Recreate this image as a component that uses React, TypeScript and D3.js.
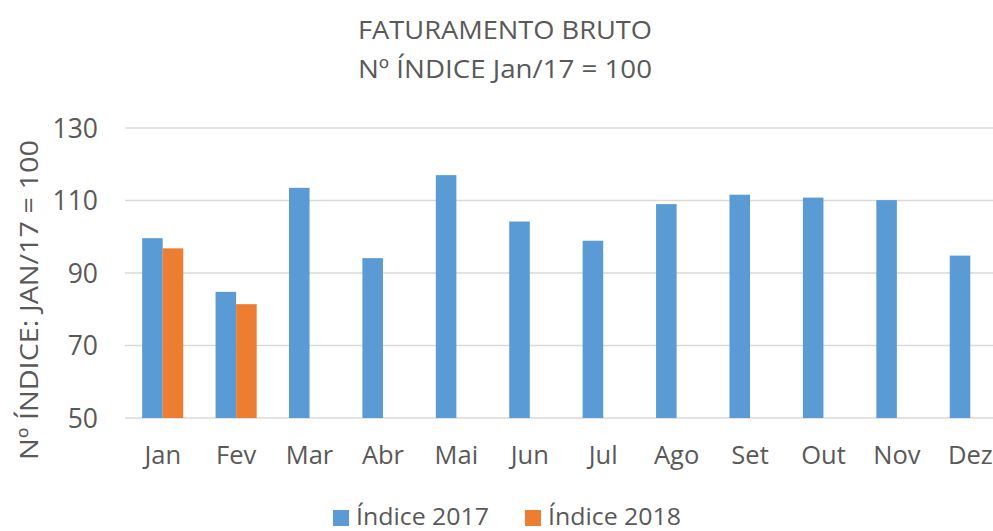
import React from "react";
import * as d3 from "d3";

const months = ["Jan", "Fev", "Mar", "Abr", "Mai", "Jun", "Jul", "Ago", "Set", "Out", "Nov", "Dez"];
const series = ["Índice 2017", "Índice 2018"];
const values2017 = [99.6, 84.8, 113.5, 94.1, 117, 104.2, 98.9, 109, 111.6, 110.8, 110.1, 94.8];
const values2018: (number | null)[] = [96.8, 81.4, null, null, null, null, null, null, null, null, null, null];
const yTicks = [50, 70, 90, 110, 130];
const colors = ["#5b9bd5", "#ed7d31"];

const W = 993;
const H = 531;
const FONT = "'Open Sans', 'Noto Sans', sans-serif";
const TEXT = "#595959";

export default function App() {
  const x = d3.scaleBand<string>().domain(months).range([126, 1007]).paddingInner(0.44).paddingOuter(0.22);
  const xi = d3.scaleBand<string>().domain(series).range([0, x.bandwidth()]);
  const y = d3.scaleLinear().domain([50, 130]).range([418, 128]);
  const data = [values2017, values2018];

  return (
    <svg width={W} height={H} style={{ position: "absolute", left: 0, top: 0, background: "#fff" }} fontFamily={FONT}>
      <text x={505} y={39} textAnchor="middle" fontSize={26} fill={TEXT} textLength={294} lengthAdjust="spacingAndGlyphs">FATURAMENTO BRUTO</text>
      <text x={505} y={78} textAnchor="middle" fontSize={26} fill={TEXT} textLength={294} lengthAdjust="spacingAndGlyphs">Nº ÍNDICE Jan/17 = 100</text>

      {yTicks.map((t) => (
        <g key={t}>
          <line x1={125} x2={W} y1={y(t)} y2={y(t)} stroke="#d9d9d9" strokeWidth={1.5} />
          <text x={98} y={y(t)} dy="0.36em" textAnchor="end" fontSize={26.5} fill={TEXT}>{t}</text>
        </g>
      ))}

      {data.map((vals, si) =>
        vals.map((v, i) =>
          v == null ? null : (
            <rect
              key={`${si}-${i}`}
              x={(x(months[i]) ?? 0) + (xi(series[si]) ?? 0)}
              y={y(v)}
              width={xi.bandwidth()}
              height={y(50) - y(v)}
              fill={colors[si]}
            />
          )
        )
      )}

      {months.map((m) => (
        <text key={m} x={(x(m) ?? 0) + x.bandwidth() / 2} y={464} textAnchor="middle" fontSize={25.5} fill={TEXT}>{m}</text>
      ))}

      <text transform={`translate(38,300) rotate(-90)`} textAnchor="middle" fontSize={26} fill={TEXT} textLength={320} lengthAdjust="spacingAndGlyphs">Nº ÍNDICE: JAN/17 = 100</text>

      {series.map((s, i) => {
        const lx = i === 0 ? 333 : 525;
        return (
          <g key={s}>
            <rect x={lx} y={510} width={16} height={16} fill={colors[i]} />
            <text x={lx + 23} y={525} fontSize={23} fill={TEXT} textLength={133} lengthAdjust="spacingAndGlyphs">{s}</text>
          </g>
        );
      })}
    </svg>
  );
}
